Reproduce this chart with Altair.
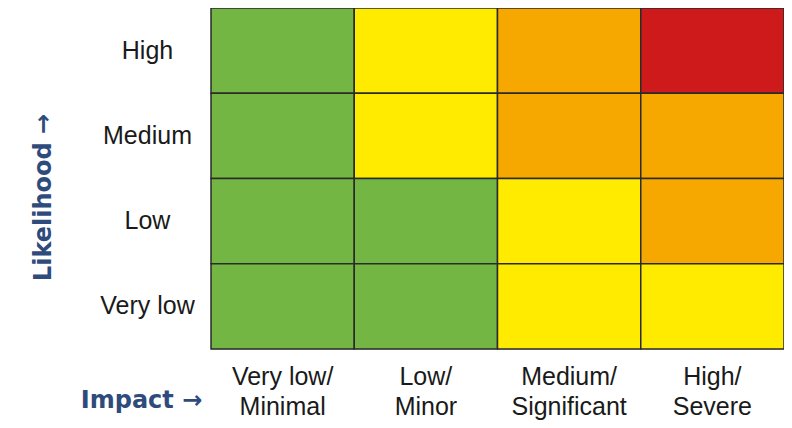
import altair as alt
import pandas as pd

likelihood = ["High", "Medium", "Low", "Very low"]
impact = ["Very low/\nMinimal", "Low/\nMinor", "Medium/\nSignificant", "High/\nSevere"]
# risk level per row (likelihood) across impact columns
risk = [
    ["Low", "Medium", "High", "Very high"],
    ["Low", "Medium", "High", "High"],
    ["Low", "Low", "Medium", "High"],
    ["Low", "Low", "Medium", "Medium"],
]
levels = ["Low", "Medium", "High", "Very high"]
colors = ["#74B644", "#FFEB00", "#F6A800", "#CF1A1C"]

rows = []
for i, l in enumerate(likelihood):
    for j, imp in enumerate(impact):
        rows.append({"likelihood": l, "impact": imp, "risk": risk[i][j]})
df = pd.DataFrame(rows)

title_color = "#2F4B7C"

chart = alt.Chart(df).mark_rect(stroke="#2a2a2a", strokeWidth=1.5).encode(
    x=alt.X("impact:N", sort=impact, scale=alt.Scale(paddingInner=0, paddingOuter=0),
            axis=alt.Axis(title="Impact \u2192", orient="bottom", labelAngle=0, ticks=False, domain=False,
                          labelExpr="split(datum.label, '\\n')", labelLineHeight=30,
                          labelFontSize=25, labelFont="Liberation Sans", labelColor="#1a1a1a",
                          labelBaseline="top", labelPadding=15, labelAlign="center",
                          titleFont="DejaVu Sans", titleFontWeight="bold", titleFontSize=24,
                          titleColor=title_color, titleX=-70, titleY=51, titleAlign="center",
                          titleBaseline="middle", titleAnchor=None)),
    y=alt.Y("likelihood:N", sort=likelihood, scale=alt.Scale(paddingInner=0, paddingOuter=0),
            axis=alt.Axis(title="Likelihood \u2192", ticks=False, domain=False,
                          labelFontSize=25, labelFont="Liberation Sans", labelColor="#1a1a1a",
                          labelAlign="center", labelBaseline="middle", labelPadding=64,
                          titleFont="DejaVu Sans", titleFontWeight="bold", titleFontSize=24,
                          titleColor=title_color, titleAngle=270, titleX=-168, titleY=189,
                          titleAlign="center", titleBaseline="middle")),
    color=alt.Color("risk:N", scale=alt.Scale(domain=levels, range=colors), legend=None),
).properties(
    width=573, height=341,
    autosize=alt.AutoSizeParams(type="none"),
    padding={"left": 203, "top": 0, "right": 0, "bottom": 71},
).configure_view(stroke=None).configure(background="white")

chart.save("out.html", embed_options={"renderer": "svg", "actions": False})
